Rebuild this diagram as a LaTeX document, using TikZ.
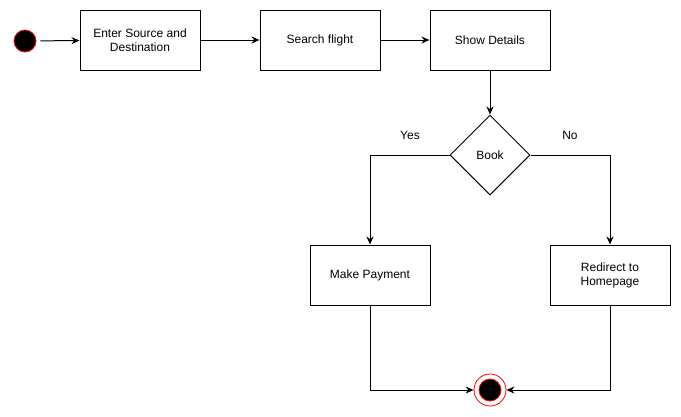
\documentclass[tikz,border=0pt]{standalone}
\usepackage{fontspec}
\setmainfont{Liberation Sans}
\usetikzlibrary{shapes.geometric,arrows.meta}
\begin{document}
\begin{tikzpicture}[x=1pt, y=-1pt, line width=1pt,
                    font=\fontsize{12}{14}\selectfont,
                    every node/.style={inner sep=0pt},
                    activity/.style={draw, rectangle, minimum width=120pt, minimum height=60pt, align=center},
                    choice/.style={draw, diamond, minimum width=80pt, minimum height=80pt},
                    startdot/.style={circle, draw=red, fill=black, line width=.8pt, minimum size=22pt},
                    stopring/.style={circle, draw=red, fill=white, line width=.8pt, minimum size=32pt},
                    flow/.style={-{Stealth[length=8pt, width=7pt]}}]
  \useasboundingbox (0,0) rectangle (681,416);
  \node[startdot] (start) at (25,41) {};
  \node[activity] (enter) at (140,40) {Enter Source and\\Destination};
  \node[activity] (search) at (320,40) {Search flight};
  \node[activity] (details) at (490,40) {Show Details};
  \node[choice] (book) at (490,155) {Book};
  \node[activity] (pay) at (370,275) {Make Payment};
  \node[activity] (home) at (610,275) {Redirect to\\Homepage};
  \node[stopring] (stop) at (490,390) {};
  \node[startdot] (stopdot) at (490,390) {};
  \node (yes) at (410,135) {Yes};
  \node (no) at (570,135) {No};
  \draw[flow, shorten <=4pt] (start) -- (enter);
  \draw[flow] (enter) -- (search);
  \draw[flow] (search) -- (details);
  \draw[flow] (details) -- (book);
  \draw[flow] (book.west) -| (pay.north);
  \draw[flow] (book.east) -| (home.north);
  \draw[flow] (pay.south) |- (stop.west);
  \draw[flow] (home.south) |- (stop.east);
\end{tikzpicture}
\end{document}
